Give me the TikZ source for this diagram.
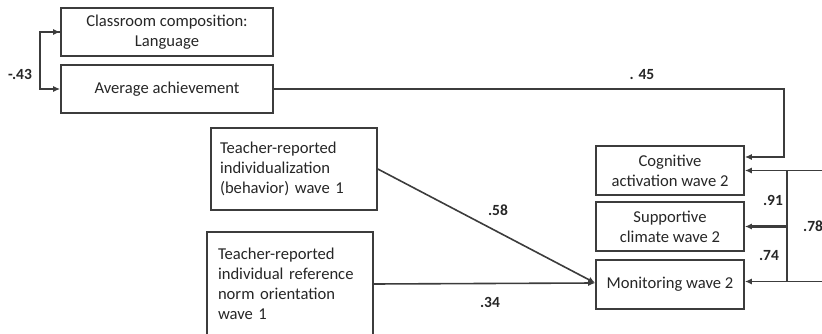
\documentclass[tikz,border=0pt]{standalone}
\usepackage{fontspec}
\setmainfont{Carlito}
\usetikzlibrary{arrows.meta}
\definecolor{ln}{HTML}{3C3C3C}
\definecolor{tx}{HTML}{262626}
\tikzset{
  box/.style={draw=ln, line width=1.6pt, inner sep=0pt, text=tx,
    font=\fontsize{16.6}{20}\selectfont},
  cbox/.style={box, align=center},
  lbox/.style={box, align=left},
  arr/.style={draw=ln, line width=1.6pt, -{Latex[length=7pt,width=6pt]}},
  lnk/.style={draw=ln, line width=1.6pt},
  lab/.style={text=tx, font=\fontsize{15.5}{18}\selectfont\bfseries, inner sep=0pt}
}
\begin{document}
\begin{tikzpicture}[x=1pt,y=-1pt]
\useasboundingbox (0,0) rectangle (822,334);
\clip (0,0) rectangle (822,334);
% left boxes
\node[cbox, minimum width=212pt, minimum height=48pt] (lang) at (167,32) {Classroom composition:\\Language};
\node[cbox, minimum width=212pt, minimum height=48pt] (avg) at (167,89) {Average achievement};
\node[lbox, minimum width=166pt, minimum height=82pt, text width=148pt] (t1) at (294,169)
  {Teacher-reported\\individualization\\(behavior) wave 1};
\node[lbox, minimum width=166pt, minimum height=104pt, text width=144pt] (t2) at (290,284)
  {Teacher-reported\\individual reference\\norm orientation\\wave 1};
% right boxes
\node[cbox, minimum width=148pt, minimum height=49pt] (cog) at (670,170.5) {Cognitive\\activation wave 2};
\node[cbox, minimum width=148pt, minimum height=49pt] (sup) at (670,226.5) {Supportive\\climate wave 2};
\node[cbox, minimum width=148pt, minimum height=49pt] (mon) at (670,284.5) {Monitoring wave 2};
% correlation -.43
\coordinate (bl) at (40,0);
\draw[arr] (lang.west) -| (bl |- avg.west) -- (avg.west);
\draw[arr] (bl |- lang.west) -- (lang.west);
\node[lab] at (20,74) {-.43};
% .45 path
\coordinate (r45) at (784,89);
\draw[arr] (avg.east) -- (r45) |- ([yshift=13.5pt]cog.east);
\node[lab] at (642,75) {. 45};
% teacher predictors
\draw[arr] (t1.east) -- ([yshift=1.5pt]mon.west);
\draw[arr] (t2.east) -- ([yshift=1.5pt]mon.west);
\node[lab] at (498,210) {.58};
\node[lab] at (490,302) {.34};
% residual correlations
\coordinate (br) at (787,0);
\draw[lnk] (br |- cog.east) -- ([yshift=3pt]br |- mon.east);
\draw[arr] (br |- cog.east) -- (cog.east);
\draw[arr, line width=2.4pt] (br |- sup.east) -- (sup.east);
\draw[arr] ([yshift=3pt]br |- mon.east) -- ([yshift=3pt]mon.east);
\draw[lnk] (br |- cog.east) -- (830,170.5);
\draw[lnk] ([yshift=3pt]br |- mon.east) -- (830,281.5);
\node[lab] at (773,200) {.91};
\node[lab] at (769,256) {.74};
\node[lab, anchor=west] at (803,226) {.78};
\end{tikzpicture}
\end{document}
